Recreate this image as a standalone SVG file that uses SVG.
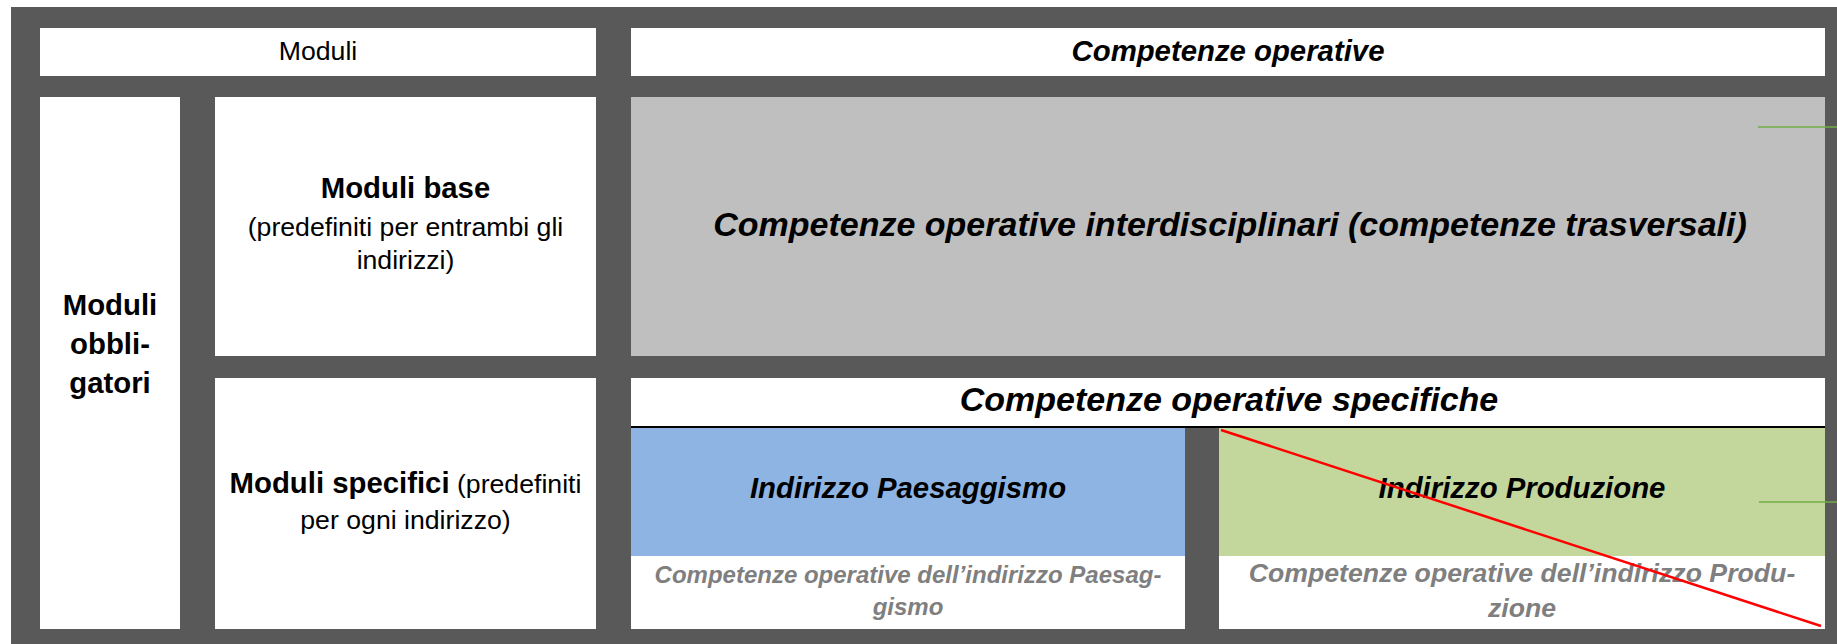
<svg xmlns="http://www.w3.org/2000/svg" width="1837" height="644" viewBox="0 0 1837 644">
<style>
text{font-family:"Liberation Sans",Arial,sans-serif;text-anchor:middle;fill:#000}
.r{font-size:26.67px}
.b{font-size:29.33px;font-weight:bold}
.bi{font-weight:bold;font-style:italic}
.g{fill:#7F7F7F}
.w{fill:#FFFFFF}
</style>
<rect x="0" y="0" width="1837" height="644" fill="#FFFFFF"/>
<rect id="frame" x="11" y="7" width="1826" height="637" fill="#595959"/>
<g id="moduli-header">
<rect class="w" x="40" y="28" width="556" height="48"/>
<text class="r" x="318" y="60">Moduli</text>
</g>
<g id="competenze-header">
<rect class="w" x="631" y="28" width="1194" height="48"/>
<text class="bi" style="font-size:29.33px" x="1228" y="61">Competenze operative</text>
</g>
<g id="moduli-obbligatori">
<rect class="w" x="40" y="97" width="140" height="532"/>
<text class="b" x="110" y="315">Moduli</text>
<text class="b" x="110" y="354">obbli-</text>
<text class="b" x="110" y="393">gatori</text>
</g>
<g id="moduli-base">
<rect class="w" x="215" y="97" width="381" height="259"/>
<text class="b" x="405.5" y="198">Moduli base</text>
<text class="r" x="405.5" y="236">(predefiniti per entrambi gli</text>
<text class="r" x="405.5" y="269">indirizzi)</text>
</g>
<g id="moduli-specifici">
<rect class="w" x="215" y="378" width="381" height="251"/>
<text x="405.5" y="493"><tspan class="b">Moduli specifici</tspan><tspan class="r"> (predefiniti</tspan></text>
<text class="r" x="405.5" y="529">per ogni indirizzo)</text>
</g>
<g id="interdisciplinari">
<rect x="631" y="97" width="1194" height="259" fill="#BFBFBF"/>
<text class="bi" style="font-size:34px" x="1230" y="236">Competenze operative interdisciplinari (competenze trasversali)</text>
</g>
<g id="specifiche">
<rect class="w" x="631" y="378" width="1194" height="50"/>
<rect x="631" y="426" width="1194" height="2" fill="#000000"/>
<text class="bi" style="font-size:34px" x="1229" y="411">Competenze operative specifiche</text>
</g>
<g id="paesaggismo">
<rect x="631" y="428" width="554" height="128" fill="#8EB4E3"/>
<rect class="w" x="631" y="556" width="554" height="73"/>
<text class="bi" style="font-size:29.33px" x="908" y="498">Indirizzo Paesaggismo</text>
<text class="bi g" style="font-size:24px" x="908" y="583">Competenze operative dell’indirizzo Paesag-</text>
<text class="bi g" style="font-size:24px" x="908" y="615">gismo</text>
</g>
<g id="produzione">
<rect x="1219" y="428" width="606" height="128" fill="#C3D69B"/>
<rect class="w" x="1219" y="556" width="606" height="73"/>
<text class="bi" style="font-size:29.33px" x="1522" y="498">Indirizzo Produzione</text>
<text class="bi g" style="font-size:26.67px" x="1522" y="582">Competenze operative dell’indirizzo Produ-</text>
<text class="bi g" style="font-size:26.67px" x="1522" y="617">zione</text>
</g>
<g id="connectors" fill="none">
<line x1="1758" y1="127" x2="1837" y2="127" stroke="#70AD47" stroke-width="1.5"/>
<line x1="1759" y1="502" x2="1837" y2="502" stroke="#70AD47" stroke-width="1.5"/>
<line x1="1221" y1="430" x2="1821" y2="626" stroke="#FF0000" stroke-width="2.5"/>
</g>
</svg>
